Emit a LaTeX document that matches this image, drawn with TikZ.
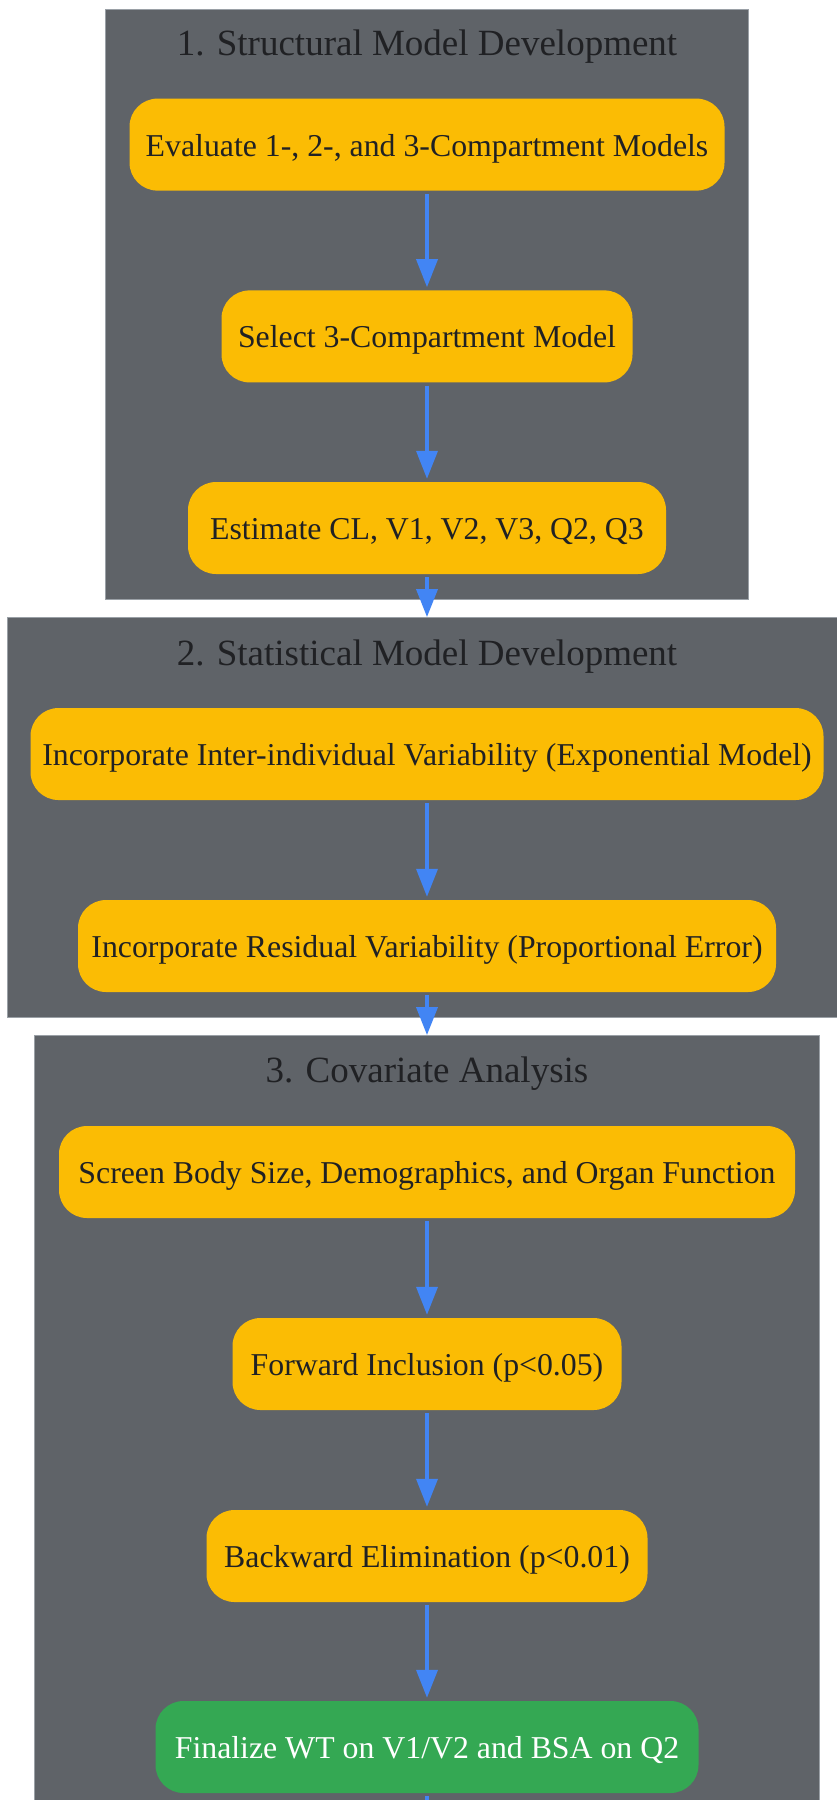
\documentclass[tikz,border=0pt]{standalone}
\usepackage{fontspec}
\setmainfont{Liberation Serif}
\usepackage{xcolor}
\usetikzlibrary{arrows.meta,positioning}

\definecolor{clgray}{HTML}{5F6368}
\definecolor{cledge}{HTML}{9AA0A6}
\definecolor{stepyellow}{HTML}{FBBC04}
\definecolor{stepgreen}{HTML}{34A853}
\definecolor{flowblue}{HTML}{4285F4}
\definecolor{inkdark}{HTML}{202124}

\tikzset{
	cluster/.style={rectangle, draw=cledge, line width=0.8pt, fill=clgray, inner sep=0pt},
	clustertitle/.style={anchor=base, text=inkdark, font=\fontsize{37}{44}\selectfont},
	stepbox/.style={rectangle, rounded corners=28pt, fill=stepyellow, text=inkdark,
		minimum height=92pt, inner xsep=10pt, text height=26pt, text depth=3pt,
		font=\fontsize{31.8}{38}\selectfont},
	finalbox/.style={stepbox, fill=stepgreen, text=white},
	flow/.style={draw=flowblue, line width=3.6pt, -{Triangle[length=28pt,width=21pt]},
		shorten <=3pt, shorten >=3pt}
}

\begin{document}
\begin{tikzpicture}[x=1pt, y=-1pt]
		\useasboundingbox (0,0) rectangle (837,1800);
		% clusters
		\node[cluster, minimum width=643pt, minimum height=590pt] (structural) at (427,304) {};
		\node[cluster, minimum width=840pt, minimum height=400pt] (statistical) at (427,817.5) {};
		\node[cluster, minimum width=785pt, minimum height=800pt] (covariate) at (427,1435.5) {};
		\node[clustertitle] (titleone) at (427,55.5) {1. Structural Model Development};
		\node[clustertitle] (titletwo) at (427,665) {2. Statistical Model Development};
		\node[clustertitle] (titlethree) at (427,1082.5) {3. Covariate Analysis};
		% steps
		\node[stepbox, minimum width=595pt] (evaluate) at (427,144.6) {Evaluate 1-, 2-, and 3-Compartment Models};
		\node[stepbox, minimum width=411pt] (select) at (427,336.4) {Select 3-Compartment Model};
		\node[stepbox, minimum width=478pt] (estimate) at (427,528) {Estimate CL, V1, V2, V3, Q2, Q3};
		\node[stepbox, minimum width=793pt] (interind) at (427,754) {Incorporate Inter-individual Variability (Exponential Model)};
		\node[stepbox, minimum width=698pt] (residual) at (427,946) {Incorporate Residual Variability (Proportional Error)};
		\node[stepbox, minimum width=736pt] (screen) at (427,1172) {Screen Body Size, Demographics, and Organ Function};
		\node[stepbox, minimum width=389pt] (forward) at (427,1364) {Forward Inclusion (p<0.05)};
		\node[stepbox, minimum width=441pt] (backward) at (427,1556) {Backward Elimination (p<0.01)};
		\node[finalbox, minimum width=543pt] (finalize) at (427,1747) {Finalize WT on V1/V2 and BSA on Q2};
		\coordinate (nextstage) at (427,1860);
		% connectors
		\draw[flow] (evaluate.south) -- (select.north);
		\draw[flow] (select.south) -- (estimate.north);
		\draw[flow, shorten >=0pt] (estimate.south) -- (statistical.north);
		\draw[flow] (interind.south) -- (residual.north);
		\draw[flow, shorten >=0pt] (residual.south) -- (covariate.north);
		\draw[flow] (screen.south) -- (forward.north);
		\draw[flow] (forward.south) -- (backward.north);
		\draw[flow] (backward.south) -- (finalize.north);
		\draw[flow] (finalize.south) -- (nextstage);
	\end{tikzpicture}
\end{document}
